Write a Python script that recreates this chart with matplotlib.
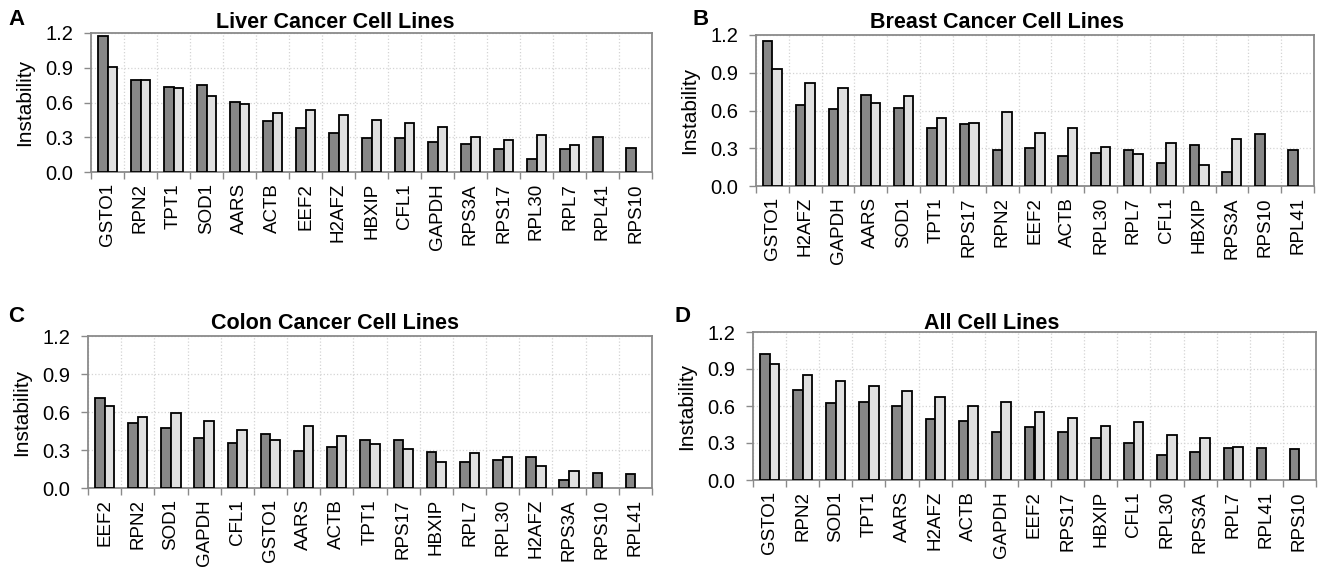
import numpy as np
import matplotlib
matplotlib.use("Agg")
import matplotlib.pyplot as plt

plt.rcParams["font.family"] = ["Liberation Sans", "DejaVu Sans"]

# panel A - liver
liver_genes = ["GSTO1", "RPN2", "TPT1", "SOD1", "AARS", "ACTB", "EEF2", "H2AFZ",
               "HBXIP", "CFL1", "GAPDH", "RPS3A", "RPS17", "RPL30", "RPL7", "RPL41", "RPS10"]
liver_dark = [1.177, 0.791, 0.731, 0.754, 0.604, 0.437, 0.383, 0.337,
              0.296, 0.296, 0.256, 0.239, 0.196, 0.115, 0.196, 0.302, 0.204]
liver_light = [0.909, 0.791, 0.722, 0.656, 0.587, 0.509, 0.532, 0.489,
               0.452, 0.426, 0.391, 0.302, 0.276, 0.317, 0.230, None, None]

# panel B - breast
breast_genes = ["GSTO1", "H2AFZ", "GAPDH", "AARS", "SOD1", "TPT1", "RPS17", "RPN2",
                "EEF2", "ACTB", "RPL30", "RPL7", "CFL1", "HBXIP", "RPS3A", "RPS10", "RPL41"]
breast_dark = [1.152, 0.641, 0.612, 0.720, 0.620, 0.464, 0.495, 0.289,
               0.299, 0.238, 0.262, 0.283, 0.185, 0.323, 0.109, 0.413, 0.283]
breast_light = [0.930, 0.816, 0.776, 0.660, 0.715, 0.543, 0.498, 0.585,
                0.424, 0.464, 0.310, 0.252, 0.342, 0.167, 0.376, None, None]

# panel C - colon
colon_genes = ["EEF2", "RPN2", "SOD1", "GAPDH", "CFL1", "GSTO1", "AARS", "ACTB",
               "TPT1", "RPS17", "HBXIP", "RPL7", "RPL30", "H2AFZ", "RPS3A", "RPS10", "RPL41"]
colon_dark = [0.708, 0.516, 0.471, 0.392, 0.355, 0.429, 0.289, 0.324,
              0.382, 0.382, 0.284, 0.203, 0.224, 0.247, 0.066, 0.121, 0.111]
colon_light = [0.650, 0.561, 0.592, 0.526, 0.458, 0.376, 0.492, 0.411,
               0.350, 0.311, 0.203, 0.276, 0.247, 0.171, 0.132, None, None]

# panel D - all
all_genes = ["GSTO1", "RPN2", "SOD1", "TPT1", "AARS", "H2AFZ", "ACTB", "GAPDH",
             "EEF2", "RPS17", "HBXIP", "CFL1", "RPL30", "RPS3A", "RPL7", "RPL41", "RPS10"]
all_dark = [1.024, 0.730, 0.627, 0.635, 0.603, 0.495, 0.478, 0.389,
            0.432, 0.389, 0.341, 0.300, 0.203, 0.230, 0.257, 0.259, 0.251]
all_light = [0.938, 0.854, 0.803, 0.762, 0.724, 0.676, 0.597, 0.632,
             0.549, 0.505, 0.438, 0.470, 0.365, 0.338, 0.265, None, None]

W, H = 1319, 573
fig = plt.figure(figsize=(W / 100, H / 100), dpi=100)


def px_rect(left, right, top, bottom):
    return [left / W, 1 - bottom / H, (right - left) / W, (bottom - top) / H]


panels = [
    ("A", "Liver Cancer Cell Lines", liver_genes, liver_dark, liver_light,
     px_rect(91, 652, 33, 172), (8, 25), (335, 28)),
    ("B", "Breast Cancer Cell Lines", breast_genes, breast_dark, breast_light,
     px_rect(756, 1314, 35, 186), (692, 25), (997, 28)),
    ("C", "Colon Cancer Cell Lines", colon_genes, colon_dark, colon_light,
     px_rect(88, 652, 336, 488), (8, 322), (335, 329)),
    ("D", "All Cell Lines", all_genes, all_dark, all_light,
     px_rect(753, 1316, 332, 480), (674, 322), (992, 329)),
]

dark_col = "#878787"
light_col = "#e0e0e0"
spine_col = "#8a8a8a"
bw = 0.29

for letter, title, genes, dark, light, rect, lpos, tpos in panels:
    ax = fig.add_axes(rect)
    x = np.arange(len(genes))
    ax.bar(x - bw, dark, width=bw, align="edge", color=dark_col,
           edgecolor="black", linewidth=1.3, zorder=3)
    lx = [xi for xi, v in zip(x, light) if v is not None]
    lv = [v for v in light if v is not None]
    ax.bar(lx, lv, width=bw, align="edge", color=light_col,
           edgecolor="black", linewidth=1.3, zorder=3)

    ax.set_xlim(-0.5, len(genes) - 0.5)
    ax.set_ylim(0, 1.2)
    ax.set_yticks([0.0, 0.3, 0.6, 0.9, 1.2])
    ax.set_yticklabels(["0.0", "0.3", "0.6", "0.9", "1.2"], fontsize=14.5)
    ax.set_xticks(x)
    ax.set_xticklabels(genes, rotation=90, fontsize=13.5)
    ax.set_xticks(np.arange(len(genes) + 1) - 0.5, minor=True)
    ax.tick_params(axis="x", which="major", length=0, pad=8)
    ax.tick_params(axis="x", which="minor", length=5, color=spine_col, width=1)
    ax.tick_params(axis="y", length=5, color=spine_col, width=1, pad=8)
    ax.grid(True, which="minor", axis="x", color="#d4d4d4", linestyle=":", linewidth=0.9)
    ax.grid(True, which="major", axis="y", color="#d4d4d4", linestyle=":", linewidth=0.9)
    ax.set_axisbelow(True)
    for s in ax.spines.values():
        s.set_color(spine_col)
        s.set_linewidth(1.3)
    ax.set_ylabel("Instability", fontsize=15, labelpad=8)

    fig.text(lpos[0] / W, 1 - lpos[1] / H, letter, fontsize=16,
             fontweight="bold", ha="left", va="baseline")
    fig.text(tpos[0] / W, 1 - tpos[1] / H, title, fontsize=15.5,
             fontweight="bold", ha="center", va="baseline")

fig.savefig("out.png", dpi=100)
